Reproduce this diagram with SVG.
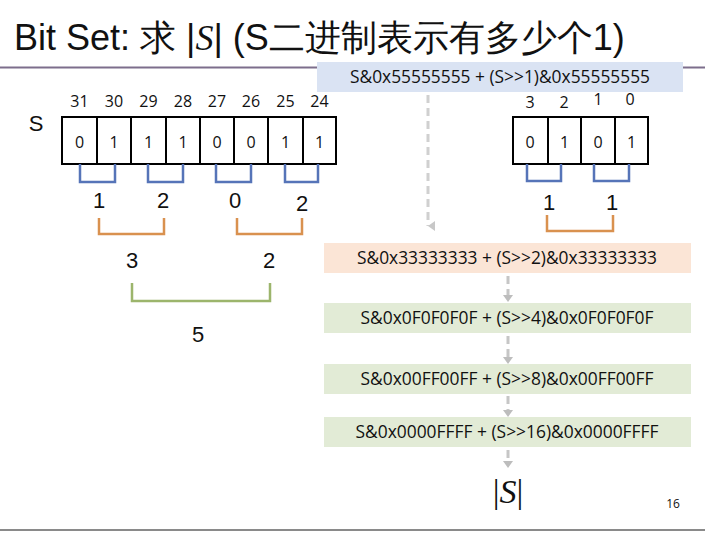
<svg xmlns="http://www.w3.org/2000/svg" width="705" height="535" viewBox="0 0 705 535">
<defs>
<style>
.t{font-family:"Liberation Sans",Arial,sans-serif;fill:#111}
.f{font-family:"Open Sans","Liberation Sans",sans-serif;font-size:18px;fill:#111;text-anchor:middle}
.n{font-family:"Open Sans","Liberation Sans",sans-serif;font-size:16px;fill:#111;text-anchor:middle}
.b{font-family:"Liberation Sans",Arial,sans-serif;font-size:22px;fill:#111;text-anchor:middle}
.cell{fill:#fff;stroke:#000;stroke-width:2}
.br{fill:none;stroke-width:2.5}
.blue{stroke:#5674b8}
.orange{stroke:#d9914f}
.green{stroke:#9cb56c}
.dash{fill:none;stroke:#c6c6c6;stroke-width:3;stroke-dasharray:8 5}
</style>
<marker id="ah" markerUnits="userSpaceOnUse" markerWidth="10" markerHeight="8" refX="5" refY="7" orient="auto" viewBox="0 0 10 8">
<path d="M0,0 L10,0 L5,7 Z" fill="#c8c8c8"/>
</marker>
</defs>
<rect width="705" height="535" fill="#fff"/>
<line x1="0" y1="67.5" x2="705" y2="67.5" stroke="#7d6e8c" stroke-width="2"/>
<line x1="0" y1="530" x2="705" y2="530" stroke="#8a8a8a" stroke-width="2"/>
<g id="title">
<text class="t" x="14" y="50" font-size="36" font-family="'Liberation Sans','Noto Sans CJK SC',sans-serif">Bit Set: 求 |<tspan font-family="'Liberation Serif',serif" font-style="italic">S</tspan>| (S二进制表示有多少个1)</text>
</g>
<g id="connectors">
<path class="dash" d="M428,95V226" style="stroke:#d0d0d0" marker-end="url(#ah)"/>
<path class="dash" d="M508,276V296"/>
<path d="M503,295 L513,295 L508,302 Z" fill="#bdbdbd"/>
<path class="dash" d="M508,336V357"/>
<path d="M503,357 L513,357 L508,364 Z" fill="#bdbdbd"/>
<path class="dash" d="M508,396V410"/>
<path d="M503,410 L513,410 L508,417 Z" fill="#bdbdbd"/>
<path class="dash" d="M508,450V461"/>
<path d="M503,461 L513,461 L508,468 Z" fill="#bdbdbd"/>
</g>
<g id="step1">
<rect x="317" y="62" width="366" height="30" fill="#dae3f3"/>
<text class="f" x="500" y="83" textLength="300" lengthAdjust="spacingAndGlyphs">S&amp;0x55555555 + (S&gt;&gt;1)&amp;0x55555555</text>
</g>
<g id="step2">
<rect x="324" y="243" width="367" height="30" fill="#fbe5d6"/>
<text class="f" x="507" y="264" textLength="300" lengthAdjust="spacingAndGlyphs">S&amp;0x33333333 + (S&gt;&gt;2)&amp;0x33333333</text>
</g>
<g id="step3">
<rect x="324" y="303" width="367" height="30" fill="#e2ebd6"/>
<text class="f" x="507" y="324" textLength="293" lengthAdjust="spacingAndGlyphs">S&amp;0x0F0F0F0F + (S&gt;&gt;4)&amp;0x0F0F0F0F</text>
</g>
<g id="step4">
<rect x="324" y="364" width="367" height="30" fill="#e2ebd6"/>
<text class="f" x="507" y="385" textLength="293" lengthAdjust="spacingAndGlyphs">S&amp;0x00FF00FF + (S&gt;&gt;8)&amp;0x00FF00FF</text>
</g>
<g id="step5">
<rect x="324" y="417" width="367" height="30" fill="#e2ebd6"/>
<text class="f" x="507" y="438" textLength="303" lengthAdjust="spacingAndGlyphs">S&amp;0x0000FFFF + (S&gt;&gt;16)&amp;0x0000FFFF</text>
</g>
<g id="result">
<text x="508" y="503" text-anchor="middle" font-family="'Liberation Serif',serif" font-size="34" fill="#111">|<tspan font-style="italic">S</tspan>|</text>
</g>
<g id="page-number">
<text class="n" x="673" y="508" style="font-size:12px">16</text>
</g>
<g id="left-bits">
<text class="t" x="36" y="131" font-size="22" text-anchor="middle">S</text>
<rect class="cell" x="62" y="117" width="274" height="47"/>
<path d="M97,117V164M131,117V164M166,117V164M200,117V164M234,117V164M268,117V164M303,117V164" stroke="#000" stroke-width="2"/>
<text class="n" y="107"><tspan x="79.5">31</tspan><tspan x="114">30</tspan><tspan x="148.5">29</tspan><tspan x="183">28</tspan><tspan x="217">27</tspan><tspan x="251">26</tspan><tspan x="285.5">25</tspan><tspan x="319.5">24</tspan></text>
<text class="n" y="148"><tspan x="79.5">0</tspan><tspan x="114">1</tspan><tspan x="148.5">1</tspan><tspan x="183">1</tspan><tspan x="217">0</tspan><tspan x="251">0</tspan><tspan x="285.5">1</tspan><tspan x="319.5">1</tspan></text>
<path class="br blue" d="M80,164V182H115V164M148,164V182H183V164M216,164V182H251V164M285,164V182H318V164"/>
<text class="b" y="208"><tspan x="99">1</tspan><tspan x="163">2</tspan><tspan x="235">0</tspan><tspan x="302" y="211">2</tspan></text>
<path class="br orange" d="M99,218V234H164V218M237,218V234H302V218"/>
<text class="b" y="268"><tspan x="132">3</tspan><tspan x="269">2</tspan></text>
<path class="br green" d="M132,283V301H270V283"/>
<text class="b" x="198" y="342">5</text>
</g>
<g id="right-bits">
<rect class="cell" x="513" y="117" width="135" height="47"/>
<path d="M548,117V164M581,117V164M615,117V164" stroke="#000" stroke-width="2"/>
<text class="n" y="108"><tspan x="530">3</tspan><tspan x="564">2</tspan><tspan x="598" y="105">1</tspan><tspan x="630" y="105">0</tspan></text>
<text class="n" y="148"><tspan x="530">0</tspan><tspan x="564.5">1</tspan><tspan x="598">0</tspan><tspan x="631.5">1</tspan></text>
<path class="br blue" d="M527,164V181H561V164M594,164V181H629V164"/>
<text class="b" y="210"><tspan x="549">1</tspan><tspan x="612">1</tspan></text>
<path class="br orange" d="M547,215V231H613V215"/>
</g>
</svg>
